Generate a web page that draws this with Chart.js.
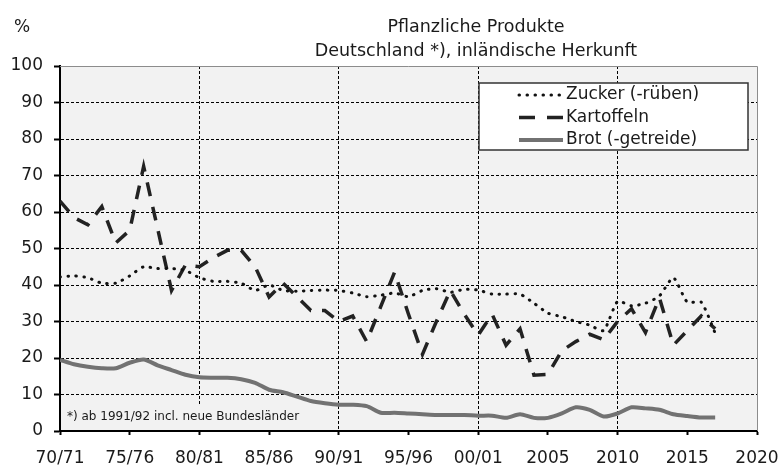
<!DOCTYPE html>
<html>
<head>
<meta charset="utf-8">
<script src="https://cdn.jsdelivr.net/npm/chart.js@4"></script>
<style>
  html, body { margin: 0; padding: 0; background: #fff; }
  #wrap { width: 780px; height: 466px; }
</style>
</head>
<body>
<div id="wrap"><canvas id="chart" width="780" height="466"></canvas></div>
<script>
// Wirtschaftsjahre 1970/71 .. 2017
const years = [1970, 1971, 1972, 1973, 1974, 1975, 1976, 1977, 1978, 1979,
               1980, 1981, 1982, 1983, 1984, 1985, 1986, 1987, 1988, 1989,
               1990, 1991, 1992, 1993, 1994, 1995, 1996, 1997, 1998, 1999,
               2000, 2001, 2002, 2003, 2004, 2005, 2006, 2007, 2008, 2009,
               2010, 2011, 2012, 2013, 2014, 2015, 2016, 2017];

const zucker = [42.2, 42.5, 42.0, 40.5, 40.5, 42.5, 45.0, 44.5, 44.5, 44.0,
                42.0, 41.0, 41.0, 40.5, 38.5, 40.0, 38.5, 38.3, 38.5, 38.6,
                38.5, 37.8, 36.8, 37.2, 37.8, 36.8, 38.5, 39.0, 38.0, 38.8,
                38.6, 37.5, 37.5, 37.5, 35.0, 32.3, 31.3, 30.0, 29.0, 27.5,
                35.5, 34.3, 35.0, 37.0, 42.0, 35.3, 35.3, 26.8];

const kartoffeln = [63.0, 58.5, 56.5, 61.5, 51.5, 55.0, 72.5, 55.5, 38.5, 45.5,
                    45.0, 47.5, 49.5, 49.5, 45.0, 36.7, 40.5, 36.8, 33.0, 33.0,
                    30.0, 31.5, 24.5, 34.0, 43.5, 32.0, 21.0, 30.0, 38.5, 32.0,
                    26.3, 32.0, 23.5, 28.0, 15.3, 15.5, 22.0, 24.5, 26.5, 25.0,
                    30.0, 33.5, 27.0, 36.5, 23.5, 27.5, 31.5, 28.0];

const brot = [19.5, 18.3, 17.6, 17.2, 17.2, 18.7, 19.6, 18.0, 16.7, 15.4,
              14.7, 14.6, 14.6, 14.2, 13.2, 11.3, 10.6, 9.4, 8.2, 7.6,
              7.2, 7.2, 6.8, 5.0, 5.0, 4.8, 4.6, 4.4, 4.4, 4.4,
              4.2, 4.2, 3.6, 4.6, 3.6, 3.6, 4.8, 6.5, 5.8, 4.0,
              4.8, 6.5, 6.2, 5.8, 4.6, 4.1, 3.7, 3.7];

const seriesNames = ['Zucker (-rüben)', 'Kartoffeln', 'Brot (-getreide)'];
const xTickValues = [1970, 1975, 1980, 1985, 1990, 1995, 2000, 2005, 2010, 2015, 2020];
const xTickLabels = ['70/71', '75/76', '80/81', '85/86', '90/91', '95/96', '00/01', '2005', '2010', '2015', '2020'];
const titleLines = ['Pflanzliche Produkte', 'Deutschland *), inländische Herkunft'];
const yUnit = '%';
const footnote = '*) ab 1991/92 incl. neue Bundesländer';

const FONT = 'DejaVu Sans';
const TEXT = '#1a1a1a';

const decor = {
  id: 'decor',
  beforeDraw(chart) {
    const { ctx, chartArea: a } = chart;
    ctx.save();
    ctx.fillStyle = '#fff';
    ctx.fillRect(0, 0, chart.width, chart.height);
    ctx.fillStyle = '#f2f2f2';
    ctx.fillRect(a.left, a.top, a.right - a.left, a.bottom - a.top);
    ctx.restore();
  },
  beforeDatasetsDraw(chart) {
    const { ctx, chartArea: a } = chart;
    ctx.save();
    // footnote sits on a box that hides the grid behind it
    ctx.fillStyle = '#f2f2f2';
    ctx.fillRect(a.left + 2, a.bottom - 27, 238, 26);
    ctx.fillStyle = TEXT;
    ctx.font = '12px "' + FONT + '"';
    ctx.textBaseline = 'alphabetic';
    ctx.fillText(footnote, a.left + 7, a.bottom - 11);
    ctx.restore();
  },
  afterDraw(chart) {
    const { ctx, chartArea: a } = chart;
    ctx.save();
    // top and right frame
    ctx.strokeStyle = '#8c8c8c';
    ctx.lineWidth = 1;
    ctx.beginPath();
    ctx.moveTo(a.left, a.top + 0.5);
    ctx.lineTo(a.right + 0.5, a.top + 0.5);
    ctx.lineTo(a.right + 0.5, a.bottom);
    ctx.stroke();

    // title + unit
    ctx.fillStyle = TEXT;
    ctx.font = '17.5px "' + FONT + '"';
    ctx.textAlign = 'center';
    ctx.textBaseline = 'alphabetic';
    ctx.fillText(titleLines[0], 476, 32);
    ctx.fillText(titleLines[1], 476, 56);
    ctx.textAlign = 'left';
    ctx.font = '17px "' + FONT + '"';
    ctx.fillText(yUnit, 14, 32);

    // legend
    const bx = 479, by = 83, bw = 269, bh = 67;
    ctx.fillStyle = '#fff';
    ctx.fillRect(bx, by, bw, bh);
    ctx.strokeStyle = '#333';
    ctx.lineWidth = 1.5;
    ctx.strokeRect(bx, by, bw, bh);
    ctx.textBaseline = 'middle';
    chart.data.datasets.forEach((ds, i) => {
      const y = by + 12 + i * 22.5;
      ctx.save();
      ctx.strokeStyle = ds.borderColor;
      ctx.lineWidth = ds.borderWidth;
      ctx.lineCap = ds.borderCapStyle || 'butt';
      ctx.setLineDash(ds.legendDash || ds.borderDash || []);
      ctx.beginPath();
      ctx.moveTo(519, y);
      ctx.lineTo(563, y);
      ctx.stroke();
      ctx.restore();
      ctx.fillStyle = TEXT;
      ctx.font = '17px "' + FONT + '"';
      ctx.fillText(ds.label, 566, y);
    });
    ctx.restore();
  }
};

new Chart(document.getElementById('chart'), {
  type: 'line',
  data: {
    labels: years,
    datasets: [
      {
        label: seriesNames[0],
        data: zucker,
        borderColor: '#111',
        borderWidth: 3,
        borderDash: [0.5, 7.5],
        borderCapStyle: 'round',
        tension: 0.2,
        pointRadius: 0
      },
      {
        label: seriesNames[1],
        data: kartoffeln,
        borderColor: '#222',
        borderWidth: 3.5,
        borderDash: [14, 11],
        legendDash: [16, 12],
        tension: 0,
        pointRadius: 0
      },
      {
        label: seriesNames[2],
        data: brot,
        borderColor: '#727272',
        borderWidth: 4,
        tension: 0.25,
        pointRadius: 0
      }
    ]
  },
  options: {
    responsive: false,
    animation: false,
    layout: { padding: { top: 66, right: 23, left: 0, bottom: 0 } },
    plugins: {
      legend: { display: false },
      title: { display: false },
      tooltip: { enabled: false }
    },
    scales: {
      x: {
        type: 'linear',
        min: 1970,
        max: 2020,
        afterFit: (scale) => {
          scale.height = 35;
          scale.paddingLeft = 0;
          scale.paddingRight = 0;
        },
        afterBuildTicks: (scale) => { scale.ticks = xTickValues.map(v => ({ value: v })); },
        ticks: {
          autoSkip: false,
          maxRotation: 0,
          minRotation: 0,
          padding: 13,
          color: TEXT,
          font: { family: FONT, size: 17 },
          callback: (value) => {
            const i = xTickValues.indexOf(value);
            return i >= 0 ? xTickLabels[i] : '';
          }
        },
        grid: {
          color: (c) => (c.tick && c.tick.value % 10 === 0 && c.tick.value > 1970 && c.tick.value < 2020) ? '#000' : 'rgba(0,0,0,0)',
          lineWidth: 1,
          tickColor: '#000',
          tickLength: 4,
          tickWidth: 2
        },
        border: { display: true, color: '#000', width: 2, dash: [3, 2] }
      },
      y: {
        min: 0,
        max: 100,
        afterFit: (scale) => { scale.width = 60; },
        ticks: {
          stepSize: 10,
          padding: 11,
          color: TEXT,
          font: { family: FONT, size: 17 }
        },
        grid: {
          color: (c) => (c.tick && c.tick.value > 0 && c.tick.value < 100) ? '#000' : 'rgba(0,0,0,0)',
          lineWidth: 1,
          tickColor: '#000',
          tickLength: 6,
          tickWidth: 2
        },
        border: { display: true, color: '#000', width: 2, dash: [3, 2] }
      }
    }
  },
  plugins: [decor]
});
</script>
</body>
</html>
